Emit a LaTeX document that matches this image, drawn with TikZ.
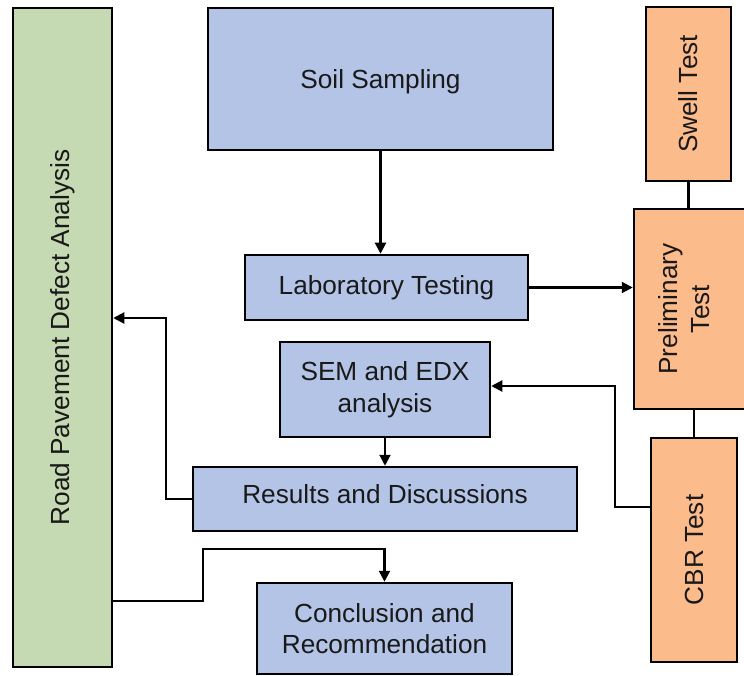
\documentclass[tikz,border=0pt]{standalone}
\usepackage{fontspec}
\setmainfont{Liberation Sans}
\usetikzlibrary{arrows.meta}
\definecolor{boxblue}{RGB}{180,196,230}
\definecolor{boxorange}{RGB}{252,187,139}
\definecolor{boxgreen}{RGB}{197,217,178}
\definecolor{ink}{RGB}{25,25,25}

\begin{document}
\begin{tikzpicture}[x=1pt,y=-1pt,
  box/.style={draw=black, line width=2.5pt, inner sep=0pt, text=ink, align=center,
              font=\fontsize{26.2}{31.5}\selectfont},
  bluebox/.style={box, fill=boxblue},
  orangebox/.style={box, fill=boxorange},
  greenbox/.style={box, fill=boxgreen},
  lbl/.style={inner sep=0pt, text=ink, align=center, font=\fontsize{26.2}{31.5}\selectfont},
  conn/.style={line width=2.1pt, draw=black},
  arr/.style={conn, -{Triangle[length=11pt,width=11pt]}}]

% page frame
\fill[white] (0,0) rectangle (744,676);
\clip (0,0) rectangle (744,676);
\useasboundingbox (0,0) rectangle (744,676);

% left column
\node[greenbox, minimum width=99pt, minimum height=659pt] (green) at (62.5,337.5) {};
\node[lbl, rotate=90] (greenlbl) at (green.center) {Road Pavement Defect Analysis};

% main flow
\node[bluebox, minimum width=345pt, minimum height=142pt, text height=25pt] (soil) at (380.5,79) {Soil Sampling};
\node[bluebox, minimum width=283pt, minimum height=65pt] (lab) at (386.5,287.5) {Laboratory Testing};
\node[bluebox, minimum width=210pt, minimum height=95pt] (sem) at (385,389.5) {SEM and EDX\\analysis};
\node[bluebox, minimum width=384pt, minimum height=64pt, text depth=10pt] (results) at (385,499) {Results and Discussions};
\node[bluebox, minimum width=255pt, minimum height=91pt] (concl) at (384.5,628.5) {Conclusion and\\Recommendation};

% test column
\node[orangebox, minimum width=85pt, minimum height=174pt] (swell) at (688.5,94) {};
\node[lbl, rotate=90] (swelllbl) at (swell.center) {Swell Test};
\node[orangebox, minimum width=116pt, minimum height=200pt] (prelim) at (692,309) {};
\node[lbl, rotate=90] (prelimlbl) at (684,309) {Preliminary\\Test};
\node[orangebox, minimum width=86pt, minimum height=224pt] (cbr) at (694,550) {};
\node[lbl, rotate=90] (cbrlbl) at (cbr.center) {CBR Test};

% connectors
\draw[arr] (soil.south) -- (soil.south |- lab.north);
\draw[arr] (lab.east) -- (lab.east -| prelim.west);
\draw[conn] (swell.south) -- (swell.south |- prelim.north);
\draw[conn] (cbr.north |- prelim.south) -- (cbr.north);
\draw[arr] (sem.south) -- (sem.south |- results.north);
\draw[arr] (cbr.west |- 0,507) -| (615,386) -- (sem.east |- 615,386);
\draw[arr] (results.west) -| (166,318) -- (green.east |- 166,318);
\draw[arr] (green.east |- 0,601) -| (203,549) -| (concl.north);
\end{tikzpicture}
\end{document}
